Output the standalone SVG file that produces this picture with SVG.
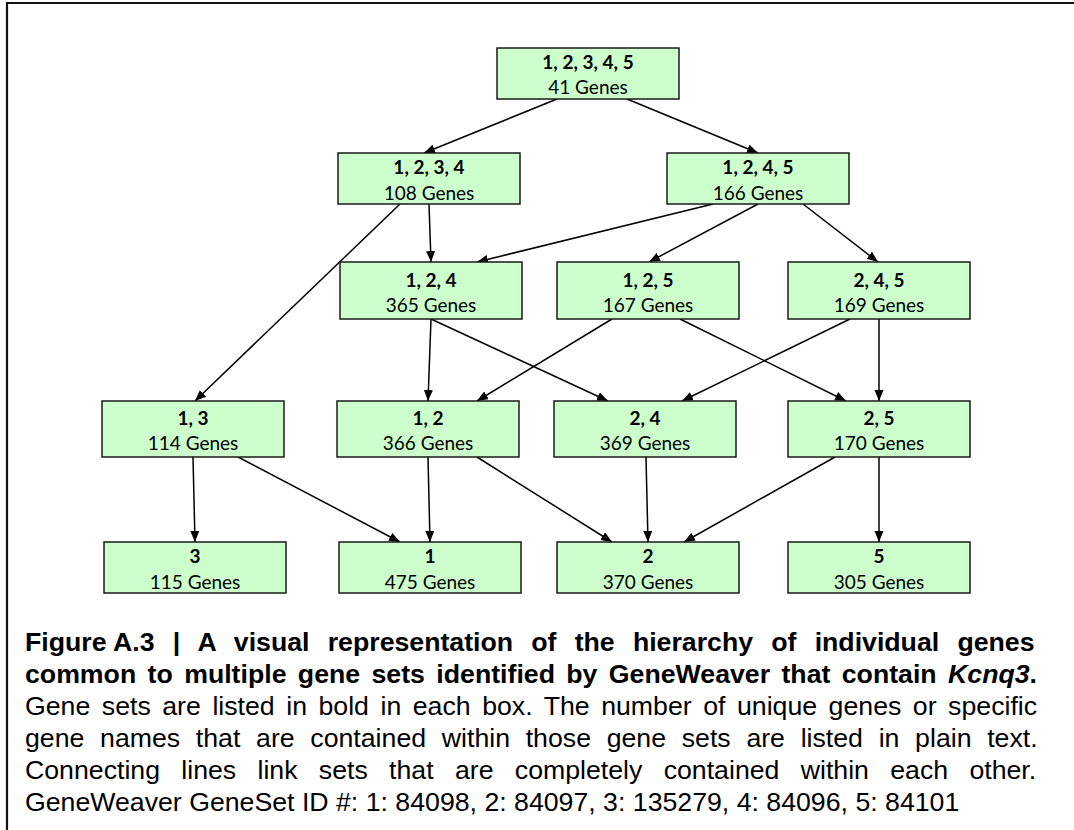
<svg xmlns="http://www.w3.org/2000/svg" width="1074" height="830" viewBox="0 0 1074 830">
<style>
.box{fill:#ccffcc;stroke:#1a1a1a;stroke-width:1.5}
.lbl{font-family:Lato,"Open Sans","Liberation Sans",sans-serif;font-size:19px;font-weight:bold;fill:#000;text-anchor:middle}
.cnt{font-family:Lato,"Open Sans","Liberation Sans",sans-serif;font-size:19px;fill:#000;text-anchor:middle}
.edge{stroke:#000;stroke-width:1.5;fill:none;marker-end:url(#ah)}
.cap{font-family:"Liberation Sans",Arial,sans-serif;font-size:26.7px;fill:#000}
.capb{font-weight:bold}
</style>
<defs>
<marker id="ah" markerUnits="userSpaceOnUse" markerWidth="12" markerHeight="10" refX="11" refY="4.5" orient="auto">
<path d="M0,0 L11,4.5 L0,9 z" fill="#000"/>
</marker>
</defs>
<rect width="1074" height="830" fill="#fff"/>
<path d="M7,830 V3 H1074" fill="none" stroke="#111" stroke-width="2.2"/>
<g id="connectors">
<line class="edge" x1="557" y1="99" x2="424" y2="153"/>
<line class="edge" x1="627" y1="99" x2="758" y2="153"/>
<line class="edge" x1="400" y1="204" x2="195" y2="401"/>
<line class="edge" x1="429" y1="204" x2="431" y2="262"/>
<line class="edge" x1="713" y1="204" x2="477" y2="262"/>
<line class="edge" x1="758" y1="204" x2="649" y2="262"/>
<line class="edge" x1="803" y1="204" x2="878" y2="262"/>
<line class="edge" x1="431" y1="319" x2="428" y2="401"/>
<line class="edge" x1="431" y1="319" x2="608" y2="401"/>
<line class="edge" x1="612" y1="319" x2="477" y2="401"/>
<line class="edge" x1="680" y1="319" x2="846" y2="401"/>
<line class="edge" x1="850" y1="319" x2="682" y2="401"/>
<line class="edge" x1="879" y1="319" x2="879" y2="401"/>
<line class="edge" x1="193" y1="457" x2="195" y2="542"/>
<line class="edge" x1="238" y1="457" x2="400" y2="542"/>
<line class="edge" x1="428" y1="457" x2="430" y2="542"/>
<line class="edge" x1="477" y1="457" x2="612" y2="542"/>
<line class="edge" x1="646" y1="457" x2="648" y2="542"/>
<line class="edge" x1="835" y1="457" x2="684" y2="542"/>
<line class="edge" x1="879" y1="457" x2="879" y2="542"/>
</g>
<g id="n12345"><rect class="box" x="497" y="48" width="182" height="51"/><text class="lbl" x="588" y="69">1, 2, 3, 4, 5</text><text class="cnt" x="588" y="94">41 Genes</text></g>
<g id="n1234"><rect class="box" x="338" y="153" width="182" height="51"/><text class="lbl" x="429" y="174">1, 2, 3, 4</text><text class="cnt" x="429" y="200">108 Genes</text></g>
<g id="n1245"><rect class="box" x="667" y="153" width="182" height="51"/><text class="lbl" x="758" y="174">1, 2, 4, 5</text><text class="cnt" x="758" y="200">166 Genes</text></g>
<g id="n124"><rect class="box" x="340" y="262" width="182" height="57"/><text class="lbl" x="431" y="287">1, 2, 4</text><text class="cnt" x="431" y="312">365 Genes</text></g>
<g id="n125"><rect class="box" x="557" y="262" width="182" height="57"/><text class="lbl" x="648" y="287">1, 2, 5</text><text class="cnt" x="648" y="312">167 Genes</text></g>
<g id="n245"><rect class="box" x="788" y="262" width="182" height="57"/><text class="lbl" x="879" y="287">2, 4, 5</text><text class="cnt" x="879" y="312">169 Genes</text></g>
<g id="n13"><rect class="box" x="102" y="401" width="182" height="56"/><text class="lbl" x="193" y="425">1, 3</text><text class="cnt" x="193" y="450">114 Genes</text></g>
<g id="n12"><rect class="box" x="337" y="401" width="182" height="56"/><text class="lbl" x="428" y="425">1, 2</text><text class="cnt" x="428" y="450">366 Genes</text></g>
<g id="n24"><rect class="box" x="554" y="401" width="182" height="56"/><text class="lbl" x="645" y="425">2, 4</text><text class="cnt" x="645" y="450">369 Genes</text></g>
<g id="n25"><rect class="box" x="788" y="401" width="182" height="56"/><text class="lbl" x="879" y="425">2, 5</text><text class="cnt" x="879" y="450">170 Genes</text></g>
<g id="n3"><rect class="box" x="104" y="542" width="182" height="51"/><text class="lbl" x="195" y="563">3</text><text class="cnt" x="195" y="589">115 Genes</text></g>
<g id="n1"><rect class="box" x="339" y="542" width="182" height="51"/><text class="lbl" x="430" y="563">1</text><text class="cnt" x="430" y="589">475 Genes</text></g>
<g id="n2"><rect class="box" x="557" y="542" width="182" height="51"/><text class="lbl" x="648" y="563">2</text><text class="cnt" x="648" y="589">370 Genes</text></g>
<g id="n5"><rect class="box" x="788" y="542" width="182" height="51"/><text class="lbl" x="879" y="563">5</text><text class="cnt" x="879" y="589">305 Genes</text></g>
<g id="caption">
<text class="cap capb" x="25" y="651" word-spacing="10.78"><tspan word-spacing="0">Figure A.3</tspan> | A visual representation of the hierarchy of individual genes</text>
<text class="cap capb" x="25" y="683" word-spacing="3.97">common to multiple gene sets identified by GeneWeaver that contain <tspan font-style="italic">Kcnq3</tspan>.</text>
<text class="cap" x="25" y="715" word-spacing="4.11">Gene sets are listed in bold in each box. The number of unique genes or specific</text>
<text class="cap" x="25" y="747" word-spacing="8.28">gene names that are contained within those gene sets are listed in plain text.</text>
<text class="cap" x="25" y="779" word-spacing="13.89">Connecting lines link sets that are completely contained within each other.</text>
<text class="cap" x="25" y="811">GeneWeaver GeneSet ID #: 1: 84098, 2: 84097, 3: 135279, 4: 84096, 5: 84101</text>
</g>
</svg>
